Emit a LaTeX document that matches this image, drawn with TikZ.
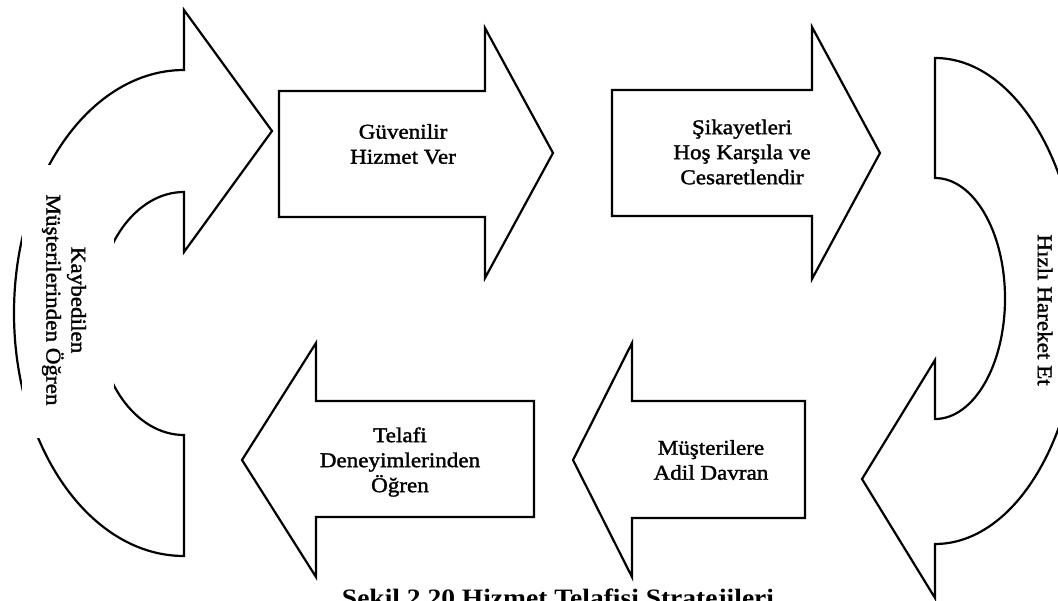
\documentclass[tikz,border=0pt]{standalone}
\usepackage{fontspec}
\setmainfont{Liberation Serif}[FakeStretch=1.1]
\newfontfamily\boxfont{Liberation Serif}[FakeStretch=1.1,FakeBold=1.6]
\begin{document}
\begin{tikzpicture}[x=1pt,y=-1pt,
  outline/.style={draw=black, line width=2.2pt, fill=white, line join=miter, miter limit=10},
  label/.style={align=center, inner sep=0pt, font=\boxfont\fontsize{21}{25}\selectfont},
  sidelabel/.style={label, rotate=-90},
  caption/.style={inner sep=0pt, anchor=base, font=\fontsize{25}{30}\selectfont\bfseries}]
\clip (0,0) rectangle (1058,600);
\fill[white] (0,0) rectangle (1058,600);

% left U-turn arrow, pointing into the top row
\draw[outline] (184,70) -- (184,10) -- (272,131) -- (184,252) -- (184,192)
  arc[start angle=-90, end angle=-270, x radius=87, y radius=121.5]
  -- (184,556)
  arc[start angle=90, end angle=270, x radius=170, y radius=243]
  -- cycle;
% white panel behind its label
\fill[white] (21.5,165) rectangle (114,438);
\node[sidelabel] (lost) at (64,300) {Kaybedilen\\Müşterilerinden Öğren};

% top row
\draw[outline] (279,91) -- (485,91) -- (485,28) -- (553,153) -- (485,278)
  -- (485,217) -- (279,217) -- cycle;
\node[label] (reliable) at (403,144) {Güvenilir\\Hizmet Ver};

\draw[outline] (612,90) -- (812,90) -- (812,27) -- (880,153) -- (812,279)
  -- (812,216) -- (612,216) -- cycle;
\node[label] (complaints) at (742,152) {Şikayetleri\\Hoş Karşıla ve\\Cesaretlendir};

% right U-turn arrow, pointing into the bottom row
\draw[outline] (935,58)
  arc[start angle=-90, end angle=90, x radius=145, y radius=243]
  -- (935,598) -- (862,479) -- (935,360) -- (935,419)
  arc[start angle=90, end angle=-90, x radius=70, y radius=120.5]
  -- cycle;
\node[sidelabel] (fast) at (1045,310) {Hızlı Hareket Et};

% bottom row
\draw[outline] (805,401) -- (632,401) -- (632,343) -- (573,460) -- (632,577)
  -- (632,518) -- (805,518) -- cycle;
\node[label] (fair) at (711,460) {Müşterilere\\Adil Davran};

\draw[outline] (534,401) -- (316,401) -- (316,343) -- (242,460) -- (316,577)
  -- (316,517) -- (534,517) -- cycle;
\node[label] (learn) at (400,462) {Telafi\\Deneyimlerinden\\Öğren};

% figure caption, running off the lower edge
\node[caption] (title) at (558,606) {Şekil 2.20 Hizmet Telafisi Stratejileri};
\end{tikzpicture}
\end{document}
